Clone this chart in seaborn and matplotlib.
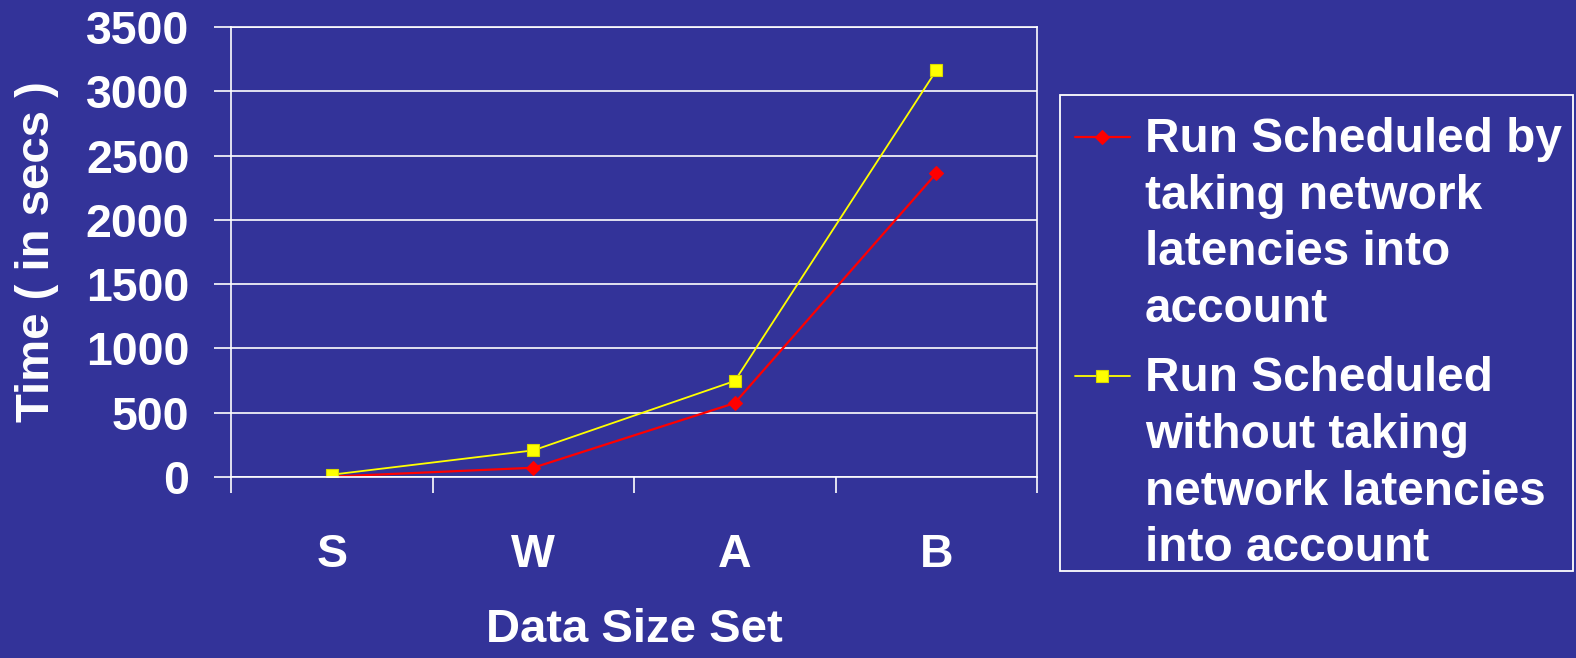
import matplotlib
matplotlib.use("Agg")
import matplotlib.pyplot as plt
from matplotlib.ticker import FixedLocator, NullFormatter
from matplotlib.patches import Rectangle
import seaborn as sns
import pandas as pd

# ---- data ----
categories = ["S", "W", "A", "B"]
with_latency = [3, 72, 575, 2361]
without_latency = [18, 207, 747, 3162]
series_names = [
    "Run Scheduled by\ntaking network\nlatencies into\naccount",
    "Run Scheduled\nwithout taking\nnetwork latencies\ninto account",
]
y_ticks = [0, 500, 1000, 1500, 2000, 2500, 3000, 3500]
x_label = "Data Size Set"
y_label = "Time ( in secs )"

BG = "#333399"
W, H = 1576, 658
sns.set_theme(style="white")
plt.rcParams["font.family"] = ["Liberation Sans", "DejaVu Sans"]
plt.rcParams["font.weight"] = "bold"
plt.rcParams["axes.labelweight"] = "bold"

fig = plt.figure(figsize=(W / 100, H / 100), dpi=100, facecolor=BG)
ax = fig.add_axes([231 / W, 1 - 477 / H, (1037 - 231) / W, (477 - 27) / H])
ax.set_facecolor(BG)

df1 = pd.DataFrame({"size": categories, "time": with_latency})
df2 = pd.DataFrame({"size": categories, "time": without_latency})

sns.lineplot(data=df1, x="size", y="time", ax=ax, color="#FF0000", linewidth=1.6,
             marker="D", markersize=7, markeredgecolor="#FF0000", markeredgewidth=0.8,
             label=series_names[0], legend=False)
sns.lineplot(data=df2, x="size", y="time", ax=ax, color="#FFFF00", linewidth=1.3,
             marker="s", markersize=9, markeredgecolor="#D8D800", markeredgewidth=0.8,
             label=series_names[1], legend=False)

ax.set_xlim(-0.5, len(categories) - 0.5)
ax.set_ylim(0, 3500)
ax.set_yticks(y_ticks)
ax.set_yticklabels([str(v) for v in y_ticks])
ax.yaxis.grid(True, color="white", linewidth=1.2)
ax.xaxis.grid(False)

ax.set_xticks(range(len(categories)))
ax.set_xticklabels(categories)
ax.xaxis.set_minor_locator(FixedLocator([i - 0.5 for i in range(len(categories) + 1)]))
ax.xaxis.set_minor_formatter(NullFormatter())
ax.tick_params(axis="x", which="major", length=0, pad=40, labelsize=33.5, labelcolor="white")
ax.tick_params(axis="x", which="minor", bottom=True, length=11.5, width=1.2, color="white", direction="out")
ax.tick_params(axis="y", which="major", left=True, length=12, width=1.2, color="white",
               direction="out", pad=18, labelsize=33.5, labelcolor="white")

for s in ax.spines.values():
    s.set_color("white")
    s.set_linewidth(1.2)

ax.set_xlabel(x_label, fontsize=34, color="white")
ax.set_ylabel(y_label, fontsize=34, color="white")
ax.xaxis.set_label_coords(0.5, -0.29)
ax.yaxis.set_label_coords(-0.213, 0.5)

# legend (frame drawn separately)
handles = ax.get_lines()[:2]
leg = fig.legend(handles, series_names, loc="upper left",
                 bbox_to_anchor=(1075 / W, 1 - 117 / H), bbox_transform=fig.transFigure,
                 borderaxespad=0, frameon=False, fontsize=34.4, labelcolor="white",
                 handlelength=1.15, handletextpad=0.31, labelspacing=0.52,
                 borderpad=0, handleheight=1.1)
for t in leg.get_texts():
    t.set_linespacing(1.33)
for col in leg._legend_handle_box.get_children():
    for item in col.get_children():
        item.align = "top"

fig.add_artist(Rectangle((1060 / W, 1 - 571 / H), (1573 - 1060) / W, (571 - 95) / H,
                         transform=fig.transFigure, fill=False, edgecolor="white",
                         linewidth=1.3))

fig.savefig("out.png", dpi=100, facecolor=BG)
